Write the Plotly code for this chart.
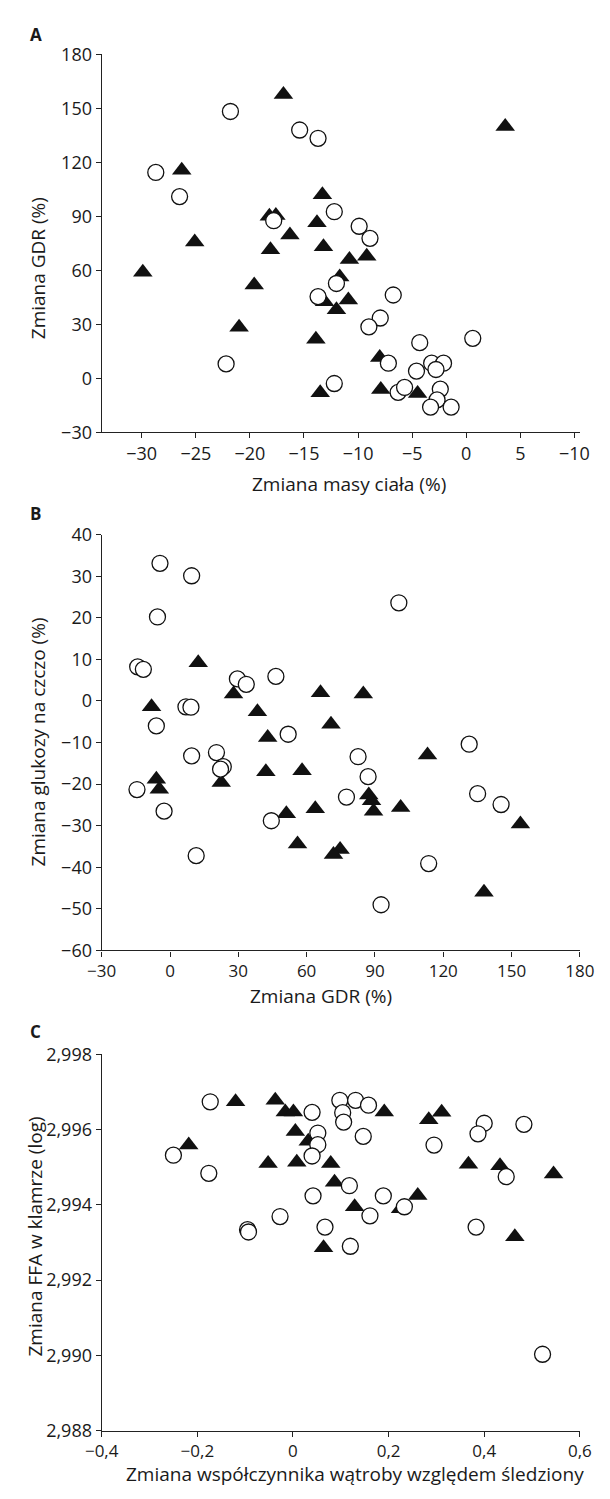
import plotly.graph_objects as go

# ---------------- Data ----------------
# Panel A: weight change (%) vs GDR change (%)
A_tri_x = [-16.9, 3.6, -26.3, -13.3, -25.1, -18.2, -17.6, -13.8, -16.3, -18.1, -13.2, -10.8, -9.2,
           -29.9, -11.7, -19.6, -13.1, -10.9, -12.0, -21.0, -13.9, -8.0, -13.5, -7.9, -4.5]
A_tri_y = [157.8, 140, 115.6, 102, 75.8, 90, 90.5, 86.4, 79.6, 71.4, 73.1, 66, 67.8,
           59, 56.3, 51.8, 42.6, 43.5, 38.1, 28.4, 21.7, 11.6, -8.0, -6.2, -8.4]
A_cir_x = [-21.8, -15.4, -13.7, -28.7, -26.5, -12.2, -17.8, -9.9, -8.9, -12.0, -13.7, -6.75, -7.95,
           -9.0, -4.3, 0.6, -22.2, -7.2, -3.2, -2.1, -2.8, -4.6, -12.2, -6.3, -5.7, -2.4, -2.7, -3.3, -1.4]
A_cir_y = [148.3, 138, 133.4, 114.4, 101, 92.6, 87.6, 84.5, 77.8, 52.7, 45.4, 46.3, 33.5,
           28.6, 19.8, 22.2, 8.0, 8.4, 8.4, 8.4, 4.9, 4.0, -2.9, -7.8, -5.1, -6.0, -12.0, -16.0, -16.0]

# Panel B: GDR change (%) vs fasting glucose change (%)
B_tri_x = [12.4, 27.9, 66.1, 84.9, -8.1, 38.4, 70.7, 42.9, 113.1, 42.1, 58.0, -6.0, -4.7, 22.5,
           87.3, 88.5, 89.4, 101.3, 63.8, 51.1, 153.9, 56.0, 74.7, 71.8, 137.9]
B_tri_y = [9.2, 1.7, 2.0, 1.7, -1.4, -2.6, -5.6, -8.8, -13.0, -17.0, -16.8, -18.8, -21.2, -19.6,
           -22.6, -24.0, -26.5, -25.6, -25.9, -27.1, -29.6, -34.4, -35.7, -36.9, -46.0]
B_cir_x = [-4.4, 9.5, -5.5, 100.5, -14.2, -11.7, 29.6, 33.5, 46.5, 7.0, 9.2, -6.0, 51.9, 131.4, 9.5,
           20.4, 82.6, 23.4, 22.2, 87.0, -14.5, 135.1, 77.5, 145.4, -2.6, 44.5, 11.5, 113.6, 92.7]
B_cir_y = [33.1, 30.1, 20.2, 23.6, 8.2, 7.6, 5.3, 4.0, 5.9, -1.4, -1.5, -6.0, -8.0, -10.4, -13.2,
           -12.4, -13.4, -15.8, -16.4, -18.2, -21.3, -22.3, -23.1, -24.9, -26.5, -28.8, -37.2, -39.1, -49.0]

# Panel C: liver/spleen ratio change vs clamp FFA change (log)
C_tri_x = [-0.120, -0.037, -0.016, 0.001, -0.218, 0.005, 0.032, 0.191, 0.284, 0.311, -0.052, 0.008,
           0.079, 0.367, 0.433, 0.545, 0.087, 0.261, 0.129, 0.464, 0.064, 0.225]
C_tri_y = [2.99674, 2.99678, 2.99647, 2.99647, 2.99559, 2.99595, 2.99569, 2.99647, 2.99626, 2.99646,
           2.99510, 2.99513, 2.99510, 2.99508, 2.99504, 2.99482, 2.99460, 2.99425, 2.99395, 2.99315,
           2.99286, 2.99390]
C_cir_x = [-0.173, -0.250, -0.176, 0.040, 0.098, 0.131, 0.158, 0.104, 0.106, 0.052, 0.052, 0.040,
           0.147, 0.295, 0.400, 0.387, 0.483, 0.446, 0.118, 0.042, 0.189, 0.233, -0.027, 0.161,
           -0.095, -0.093, 0.067, 0.383, 0.120, 0.522]
C_cir_y = [2.99674, 2.99532, 2.99484, 2.99646, 2.99678, 2.99678, 2.99665, 2.99645, 2.99620, 2.99591,
           2.99560, 2.99530, 2.99582, 2.99559, 2.99617, 2.99589, 2.99614, 2.99475, 2.99451, 2.99424,
           2.99424, 2.99395, 2.99369, 2.99371, 2.99334, 2.99328, 2.99341, 2.99341, 2.99290, 2.99003]

# Tick labels
A_xticks = [-30, -25, -20, -15, -10, -5, 0, 5, 10]
A_xtext = ["−30", "−25", "−20", "−15", "−10", "−5", "0", "5", "−10"]
A_yticks = [-30, 0, 30, 60, 90, 120, 150, 180]
B_xticks = [-30, 0, 30, 60, 90, 120, 150, 180]
B_yticks = [-60, -50, -40, -30, -20, -10, 0, 10, 20, 30, 40]
C_xticks = [-0.4, -0.2, 0, 0.2, 0.4, 0.6]
C_xtext = ["−0,4", "−0,2", "0", "0,2", "0,4", "0,6"]
C_yticks = [2.988, 2.990, 2.992, 2.994, 2.996, 2.998]
C_ytext = ["2,988", "2,990", "2,992", "2,994", "2,996", "2,998"]

# ---------------- Figure ----------------
# The page body has an 8px default margin, so the figure is sized to fit the
# 610x1499 window and all positions are given in window pixels minus that offset.
OFF = 8
W, H = 610 - OFF, 1499 - OFF
FONT = "Open Sans, Noto Sans, sans-serif"
TXT = "#1a1a1a"
TICK_SIZE = 18
TITLE_SIZE = 19


def px_y(p):
    return 1 - (p - OFF) / H


def px_x(p):
    return (p - OFF) / W


def minus(vals):
    return [str(v).replace("-", "−") for v in vals]


fig = go.Figure()

tri_style = dict(symbol="triangle-up", size=17, color="#111111", line=dict(width=0))
cir_style = dict(symbol="circle", size=16, color="white", line=dict(width=1.3, color="#111111"))

panels = [
    ("x", "y", A_tri_x, A_tri_y, A_cir_x, A_cir_y),
    ("x2", "y2", B_tri_x, B_tri_y, B_cir_x, B_cir_y),
    ("x3", "y3", C_tri_x, C_tri_y, C_cir_x, C_cir_y),
]
for xa, ya, tx, ty, cx, cy in panels:
    fig.add_trace(go.Scatter(x=tx, y=ty, mode="markers", marker=tri_style, xaxis=xa, yaxis=ya,
                             showlegend=False, hoverinfo="skip"))
    fig.add_trace(go.Scatter(x=cx, y=cy, mode="markers", marker=cir_style, xaxis=xa, yaxis=ya,
                             showlegend=False, hoverinfo="skip"))

xdom = [px_x(89), px_x(594)]
axis_common = dict(showline=True, linecolor="#222222", linewidth=1.2, ticks="outside", ticklen=5,
                   tickcolor="#222222", tickwidth=1.2, showgrid=False, zeroline=False)
tf = dict(family=FONT, size=TICK_SIZE, color=TXT)
tf_small = dict(family=FONT, size=17, color=TXT)

fig.update_layout(
    width=W, height=H, margin=dict(l=0, r=0, t=0, b=0),
    paper_bgcolor="white", plot_bgcolor="white",
    font=dict(family=FONT, size=TICK_SIZE, color=TXT),
    xaxis=dict(domain=xdom, anchor="y", range=[-33.7, 10.5], tickmode="array",
               tickvals=A_xticks, ticktext=A_xtext, tickfont=tf, **axis_common),
    yaxis=dict(domain=[px_y(426), px_y(42)], anchor="x", range=[-30, 180], tickmode="array",
               tickvals=A_yticks, ticktext=minus(A_yticks), tickfont=tf, **axis_common),
    xaxis2=dict(domain=xdom, anchor="y2", range=[-30, 180], tickmode="array",
                tickvals=B_xticks, ticktext=minus(B_xticks), tickfont=tf_small, **axis_common),
    yaxis2=dict(domain=[px_y(952.7), px_y(530)], anchor="x2", range=[-60, 40], tickmode="array",
                tickvals=B_yticks, ticktext=minus(B_yticks), tickfont=tf, **axis_common),
    xaxis3=dict(domain=xdom, anchor="y3", range=[-0.4, 0.6], tickmode="array",
                tickvals=C_xticks, ticktext=C_xtext, tickfont=tf_small, **axis_common),
    yaxis3=dict(domain=[px_y(1440.7), px_y(1058.3)], anchor="x3", range=[2.988, 2.998], tickmode="array",
                tickvals=C_yticks, ticktext=C_ytext, tickfont=tf, **axis_common),
)


def ann(text, x, y, size=TITLE_SIZE, angle=0, bold=False):
    fig.add_annotation(text=f"<b>{text}</b>" if bold else text, x=px_x(x), y=px_y(y),
                       xref="paper", yref="paper", showarrow=False, textangle=angle,
                       xanchor="center", yanchor="middle",
                       font=dict(family=FONT, size=size, color=TXT))


# panel letters
ann("A", 20, 22, size=17, bold=True)
ann("B", 19, 509, size=17, bold=True)
ann("C", 19, 1035, size=17, bold=True)

# x titles
ann("Zmiana masy ciała (%)", 350, 479)
ann("Zmiana GDR (%)", 321, 999)
ann("Zmiana współczynnika wątroby względem śledziony", 356, 1485)

# y titles
ann("Zmiana GDR (%)", 22, 259, angle=-90)
ann("Zmiana glukozy na czczo (%)", 22, 741, angle=-90)
ann("Zmiana FFA w klamrze (log)", 19, 1243, angle=-90)

fig.write_html("out.html")
